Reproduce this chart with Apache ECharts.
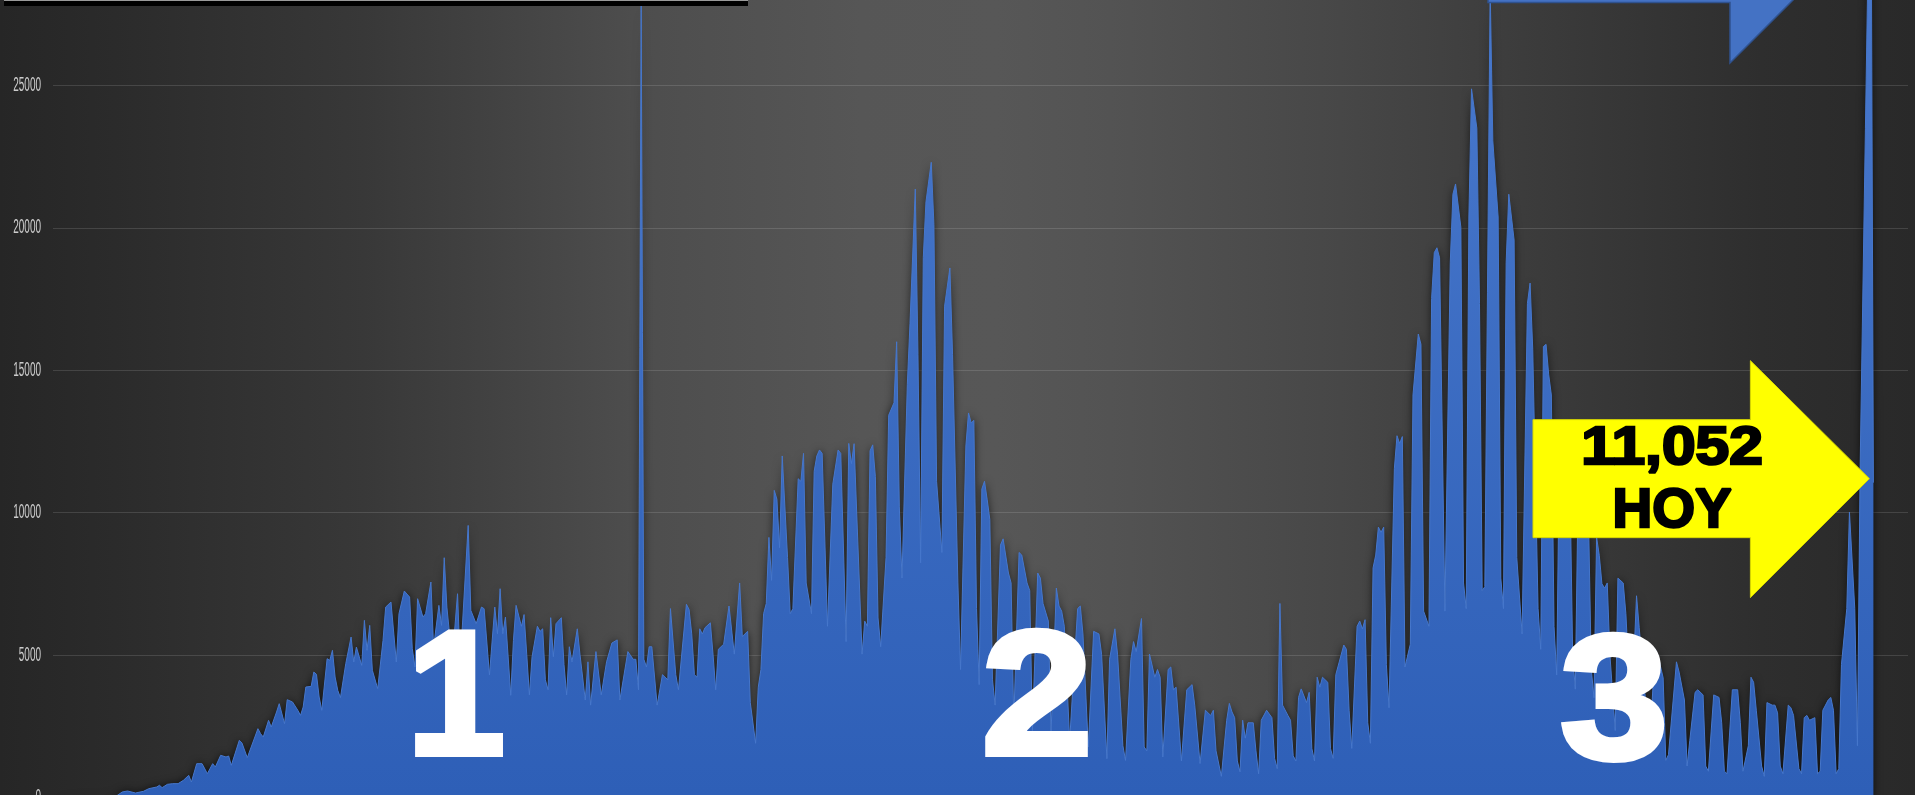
<!DOCTYPE html>
<html><head><meta charset="utf-8">
<script src="https://cdn.jsdelivr.net/npm/echarts@6/dist/echarts.min.js"></script>
<style>
html,body{margin:0;padding:0;background:#2a2a2a;overflow:hidden;}
#c{width:1915px;height:798px;
background:linear-gradient(90deg,#262626 0%,#2b2b2b 6%,#383838 19%,#4d4d4d 33%,#565656 45%,#575757 52%,#535353 58%,#474747 70%,#383838 83%,#2e2e2e 92%,#292929 100%);}
</style>
</head><body><div id="c"></div>
<script>
// day index (days since 27 Feb 2020) and daily cases
const days = [0,12,20,24,26,28,31,34,36,39,40,41,43,45,47,49,51,52,54,56,58,60,61,63,65,66,67,70,71,73,77,78,79,81,82,84,85,87,88,90,92,93,94,95,97,98,99,100,101,103,104,105,106,107,108,110,112,113,114,116,117,118,119,120,122,124,125,127,129,130,132,134,135,136,137,139,140,142,143,145,146,147,148,150,152,153,156,157,159,161,162,164,166,167,168,169,170,172,173,174,
176,177,178,179,180,182,183,184,185,186,187,188,189,191,192,193,194,195,197,198,200,201,202,204,206,208,210,212,213,216,218,219,220,221,222,223,224,225,227,229,231,232,234,235,238,239,240,241,242,243,244,245,247,248,249,250,252,254,256,258,259,261,262,264,265,266,267,268,269,270,271,272,273,274,276,277,278,280,281,282,283,285,286,287,288,289,291,293,295,296,298,299,300,301,304,305,306,307,308,309,310,311,313,314,
316,317,318,319,321,322,324,325,326,327,328,330,331,332,334,335,337,338,340,341,343,344,345,346,347,348,349,350,351,352,353,354,356,357,359,360,361,363,364,366,367,368,370,371,372,374,375,377,378,379,380,382,385,386,387,389,391,393,394,396,397,399,400,402,403,405,406,407,409,410,411,412,414,415,416,417,419,420,421,422,424,426,428,429,431,433,435,436,437,439,441,442,443,444,445,446,447,448,449,
451,452,453,454,456,458,459,460,461,462,464,465,466,467,468,469,471,472,473,474,475,476,477,479,480,481,482,485,486,487,488,490,491,492,493,494,495,496,497,498,499,500,501,502,504,505,506,507,508,510,511,513,514,515,517,518,519,520,521,523,525,526,527,529,530,531,532,533,535,536,537,538,540,541,543,544,545,546,547,549,550,552,554,555,556,558,559,560,561,562,563,
564,565,566,567,568,569,570,571,572,573,574,575,576,577,578,579,580,581,582,583,584,585,587,588,590,591,593,595,596,598,600,602,603,604,605,606,607,610,611,613,614,615,617,618,620,621,622,624,626,627,628,629,631,633,634,635,637,638,639,640,642,643,644,646,647,648,649,650,652,653,654,656,657,658,659,660,662,663,664,665,667,668,669,670,671,672,674,675,677,678,679,680,681,682,683,684];
const cases = [0,2,8,60,190,225,155,214,307,366,425,343,460,483,483,600,775,541,1185,1185,834,1185,1068,1478,1419,1454,1127,2004,1910,1396,2413,2238,2121,2706,2472,2999,3291,2589,3431,3350,3057,2882,3174,3876,3899,4403,4320,3525,3057,4870,4812,5163,4227,3759,3501,4695,5631,4754,5280,4637,6216,5163,6040,4461,3818,5514,6684,6860,4754,6450,7246,7035,5222,4578,6977,6333,6450,7562,5280,6743,6040,8416,6684,4800,7152,4700,9550,6567,6099,6684,6625,4300,6684,5748,7328,5748,6333,3584,5514,6743,
6010,6420,5030,3600,4940,6010,5830,5920,4130,3780,6310,4940,6100,6310,4670,3600,5290,4760,5920,5030,3420,4760,3240,5120,3600,4760,5420,5530,3420,5120,4850,4850,3780,27800,4850,4580,5290,5290,3240,4310,4130,6630,4310,3780,6780,6600,5740,4310,4220,5920,5740,5960,6130,5030,3780,5200,5380,6720,5030,7530,5650,5830,3330,1900,3870,4490,6450,6810,9130,7620,10780,10470,8770,11990,8420,6450,6630,11190,11100,12080,7530,6450,11450,11990,12200,12080,6010,11000,12200,12080,5470,12430,11720,12420,5030,6190,6010,12170,12380,11270,6300,5290,8420,13420,
13860,16000,10200,7700,14490,16630,21360,15560,8240,18950,20910,22300,20110,11100,8600,17250,18590,15560,7530,4490,12340,13500,13150,13240,6630,3960,10830,11100,10470,9760,4130,3240,8860,9080,7880,7530,2710,8600,8510,7530,7260,2350,7880,7700,6810,6190,2240,7350,6720,6540,6010,2000,6630,6720,5740,1770,5830,5740,5030,1360,4850,5920,5030,1815,1300,4850,5470,5120,6280,1770,1635,5030,4220,4490,4220,1420,4490,4580,3780,3870,1280,3780,3960,3240,1190,3060,2880,3060,1635,740,2710,3300,3000,2800,1280,900,2710,2080,2620,
2620,1635,830,2710,3060,2800,1370,1010,6810,3240,2880,2710,1460,1280,3510,3810,3330,3690,1720,1280,4220,3870,4220,4040,1720,1370,4310,5350,5200,3060,1720,6010,6190,5920,6240,2620,1900,8060,8510,9490,9310,9490,4670,3150,11540,12700,12430,12670,4580,5380,14130,16270,15910,6540,6010,17520,19130,19300,18950,6540,18770,21180,21540,20020,7530,6630,20380,24880,23500,17340,7260,7400,28400,23060,20380,7700,6630,18770,21180,19570,8420,5740,17340,18060,15740,6630,5200,15830,15910,14840,14130,
6000,4300,12000,12500,9500,12000,11000,5000,3800,10500,11200,10800,10000,9600,4500,3500,9130,8500,7500,7350,7530,5000,2350,7700,7530,6450,2700,7080,5970,3780,2000,5200,5000,4600,4200,1300,1500,4760,4400,3420,1100,1990,3690,3780,3600,1100,920,3600,3510,2620,920,830,3780,3780,2620,920,1815,4220,4040,3060,1100,740,3330,3240,3240,2970,1100,830,3240,3150,2880,1010,830,2800,2880,2710,2800,830,920,3060,3420,3510,3060,830,1010,4670,6630,10020,6630,1815,11500,17500,23500,29500,35300,11052];
const yTicks = [0, 5000, 10000, 15000, 20000, 25000];
const waveLabels = ['1', '2', '3'];
const todayText = ['11,052', 'HOY'];

const chart = echarts.init(document.getElementById('c'), null, {renderer: 'canvas'});
const series = days.map((d, i) => [d, cases[i]]);
chart.setOption({
  animation: false,
  backgroundColor: 'transparent',
  grid: {left: 53, right: 7, top: 0, bottom: 0.6, containLabel: false},
  xAxis: {type: 'value', min: 0, max: 697, show: false},
  yAxis: {
    type: 'value', min: 0, max: 28000, interval: 5000,
    axisLine: {show: false}, axisTick: {show: false}, axisLabel: {show: false},
    splitLine: {show: true, showMaxLine: false, lineStyle: {color: 'rgba(255,255,255,0.13)', width: 1}}
  },
  series: [{
    type: 'line', data: series, symbol: 'none', smooth: false,
    lineStyle: {width: 1, color: '#4677cc'},
    areaStyle: {
      opacity: 1,
      color: new echarts.graphic.LinearGradient(0, 0, 0, 795, [
        {offset: 0, color: '#4878cc'}, {offset: 1, color: '#2e5fb7'}], true),
      shadowBlur: 8, shadowColor: 'rgba(0,0,0,0.7)'
    },
    z: 2
  }]
});

// y tick labels (condensed), placed through the axis scale
const g = [];
yTicks.forEach(v => {
  const py = chart.convertToPixel({yAxisIndex: 0}, v);
  g.push({type: 'text', x: 41, y: py, scaleX: 0.5, z: 40,
    style: {text: String(v), x: 0, y: 0, fill: '#cccccc', font: "20px 'Liberation Sans', Arial, sans-serif", align: 'right', verticalAlign: 'middle'}});
});

// annotations
const last = chart.convertToPixel({seriesIndex: 0}, [days[days.length - 1], cases[cases.length - 1]]);
const tipX = last[0] - 4, tipY = last[1] - 4;
const headX = tipX - 119;
const bigFont = "bold 176px 'Liberation Sans', Arial, sans-serif";
const bigText = (t, x, y, sx) => ({type: 'text', x: x, y: y, scaleX: sx, z: 60,
  style: {text: t, x: 0, y: 0, fill: '#fff', stroke: '#fff', lineWidth: 6, font: bigFont, align: 'center', verticalAlign: 'middle'}});
g.push(
  {type: 'rect', shape: {x: 4, y: 0, width: 744, height: 1}, style: {fill: '#9a9a9a'}, z: 50},
  {type: 'rect', shape: {x: 4, y: 1, width: 744, height: 5}, style: {fill: '#000'}, z: 50},
  {type: 'polygon', shape: {points: [[1488, -38], [1730, -38], [1730, -98], [1810.5, -17.5], [1730, 63], [1730, 2.5], [1488, 2.5]]},
   style: {fill: '#4472c4', stroke: '#2f528f', lineWidth: 1.5}, z: 50},
  bigText(waveLabels[0], 456, 705, 1),
  bigText(waveLabels[1], 1037, 705, 1.13),
  bigText(waveLabels[2], 1614, 709, 1.1),
  {type: 'polygon', shape: {points: [[1533, tipY - 59], [headX, tipY - 59], [headX, tipY - 118], [tipX, tipY], [headX, tipY + 119], [headX, tipY + 59], [1533, tipY + 59]]},
   style: {fill: '#ffff00', stroke: '#d8d800', lineWidth: 1}, z: 70},
  {type: 'text', x: 1672, y: tipY - 30, scaleX: 1.12, z: 80,
   style: {text: todayText[0], x: 0, y: 0, fill: '#000', stroke: '#000', lineWidth: 2.5, font: "bold 54px 'Liberation Sans', Arial, sans-serif", align: 'center', verticalAlign: 'middle'}},
  {type: 'text', x: 1672, y: tipY + 33, z: 80,
   style: {text: todayText[1], x: 0, y: 0, fill: '#000', stroke: '#000', lineWidth: 2.5, font: "bold 55px 'Liberation Sans', Arial, sans-serif", align: 'center', verticalAlign: 'middle'}}
);
chart.setOption({graphic: {elements: g}});
</script>
</body></html>
